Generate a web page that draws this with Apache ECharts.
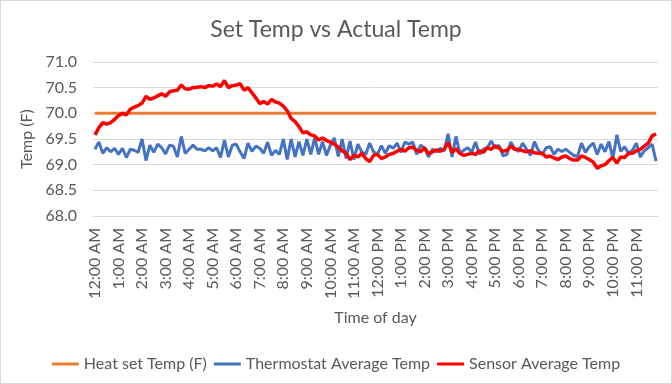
<!DOCTYPE html>
<html>
<head>
<meta charset="utf-8">
<script src="https://cdn.jsdelivr.net/npm/echarts@6/dist/echarts.min.js"></script>
<style>
html,body{margin:0;padding:0;background:#fff;}
#c{width:670px;height:382px;border:1px solid #d9d9d9;}
</style>
</head>
<body>
<div id="c"></div>
<script>
// hour tick labels (categories every 10 minutes)
const hourLabels = ["12:00 AM","1:00 AM","2:00 AM","3:00 AM","4:00 AM","5:00 AM","6:00 AM","7:00 AM","8:00 AM","9:00 AM","10:00 AM","11:00 AM",
  "12:00 PM","1:00 PM","2:00 PM","3:00 PM","4:00 PM","5:00 PM","6:00 PM","7:00 PM","8:00 PM","9:00 PM","10:00 PM","11:00 PM"];
const minuteSteps = ["00","10","20","30","40","50"];

const heatSet = 70.0;

const thermostat = [
69.3,69.44,69.22,69.33,69.25,69.32,69.2,69.32,69.14,69.3,69.28,69.24,69.5,69.08,69.38,69.24,69.4,69.33,69.21,69.38,69.36,69.15,69.55,69.22,69.3,69.38,69.3,69.3,69.27,69.33,69.27,69.33,69.14,69.48,69.15,69.38,
69.4,69.25,69.12,69.42,69.26,69.36,69.32,69.22,69.44,69.18,69.28,69.2,69.5,69.1,69.5,69.15,69.45,69.18,69.5,69.2,69.52,69.2,69.45,69.18,69.38,69.52,69.16,69.5,69.12,69.46,69.1,69.4,69.25,69.2,69.42,69.25,
69.2,69.37,69.22,69.37,69.32,69.42,69.24,69.44,69.4,69.44,69.2,69.38,69.32,69.15,69.3,69.25,69.32,69.27,69.6,69.15,69.55,69.22,69.28,69.33,69.24,69.44,69.2,69.3,69.33,69.46,69.32,69.38,69.17,69.2,69.44,69.3,
69.26,69.42,69.3,69.18,69.45,69.28,69.2,69.33,69.35,69.2,69.3,69.26,69.3,69.24,69.18,69.16,69.42,69.24,69.35,69.42,69.2,69.4,69.25,69.45,69.12,69.58,69.26,69.35,69.22,69.28,69.42,69.15,69.27,69.33,69.4,69.07];

const sensor = [
69.58,69.72,69.82,69.79,69.82,69.88,69.96,70.0,69.97,70.08,70.12,70.15,70.2,70.33,70.27,70.3,70.34,70.38,70.33,70.42,70.44,70.45,70.55,70.48,70.47,70.5,70.51,70.52,70.5,70.54,70.53,70.57,70.52,70.64,70.5,70.54,
70.55,70.58,70.45,70.5,70.4,70.3,70.19,70.23,70.18,70.27,70.22,70.2,70.14,70.05,69.9,69.84,69.74,69.62,69.64,69.58,69.56,69.48,69.52,69.47,69.44,69.4,69.34,69.27,69.22,69.1,69.18,69.15,69.22,69.12,69.06,69.18,
69.2,69.12,69.15,69.2,69.22,69.26,69.3,69.26,69.33,69.34,69.28,69.25,69.33,69.21,69.25,69.29,69.26,69.3,69.43,69.24,69.31,69.22,69.18,69.2,69.22,69.2,69.27,69.24,69.33,69.3,69.37,69.32,69.26,69.28,69.36,69.3,
69.3,69.27,69.25,69.27,69.23,69.22,69.22,69.15,69.17,69.13,69.1,69.15,69.17,69.12,69.09,69.09,69.17,69.14,69.1,69.05,68.93,68.98,69.0,69.08,69.14,69.03,69.15,69.14,69.22,69.22,69.27,69.3,69.36,69.42,69.56,69.6];

const categories = [];
hourLabels.forEach(h => {
  const [hm, ap] = h.split(" ");
  const hr = hm.split(":")[0];
  minuteSteps.forEach(m => categories.push(hr + ":" + m + " " + ap));
});
const heatSeries = categories.map(() => heatSet);

const FONT = "Lato";
const GREY = "#595959";
const chart = echarts.init(document.getElementById("c"), null, {renderer: "canvas"});
chart.setOption({
  animation: false,
  backgroundColor: "#fff",
  textStyle: {fontFamily: FONT},
  title: {
    text: "Set Temp vs Actual Temp",
    left: "center", top: 12,
    textStyle: {fontFamily: FONT, fontSize: 23, fontWeight: "normal", color: GREY}
  },
  legend: {
    top: 350, left: "center",
    itemWidth: 27, itemHeight: 3, itemGap: 7,
    icon: "rect",
    textStyle: {fontFamily: FONT, fontSize: 16, color: GREY},
    data: ["Heat set Temp (F)", "Thermostat Average Temp", "Sensor Average Temp"]
  },
  grid: {left: 92, right: 13, top: 61, bottom: 167, containLabel: false},
  xAxis: {
    type: "category",
    data: categories,
    boundaryGap: true,
    name: "Time of day",
    nameLocation: "middle",
    nameGap: 94,
    nameTextStyle: {fontFamily: FONT, fontSize: 16, color: GREY},
    axisLine: {lineStyle: {color: "#d9d9d9", width: 1}},
    axisTick: {show: false},
    axisLabel: {interval: 5, rotate: 90, margin: 12, fontFamily: FONT, fontSize: 16, color: GREY}
  },
  yAxis: {
    type: "value",
    min: 68, max: 71, interval: 0.5,
    name: "Temp (F)",
    nameLocation: "middle",
    nameGap: 56,
    nameTextStyle: {fontFamily: FONT, fontSize: 16, color: GREY},
    axisLine: {show: false},
    axisTick: {show: false},
    splitLine: {lineStyle: {color: "#d9d9d9", width: 1}},
    axisLabel: {margin: 16, fontFamily: FONT, fontSize: 16, color: GREY, formatter: v => v.toFixed(1)}
  },
  series: [
    {name: "Heat set Temp (F)", type: "line", data: heatSeries, symbol: "none",
     lineStyle: {color: "#ED7D31", width: 3}, itemStyle: {color: "#ED7D31"}},
    {name: "Thermostat Average Temp", type: "line", data: thermostat, symbol: "none",
     lineStyle: {color: "#4472C4", width: 3}, itemStyle: {color: "#4472C4"}},
    {name: "Sensor Average Temp", type: "line", data: sensor, symbol: "none",
     lineStyle: {color: "#FF0000", width: 3.5}, itemStyle: {color: "#FF0000"}}
  ]
});
</script>
</body>
</html>
